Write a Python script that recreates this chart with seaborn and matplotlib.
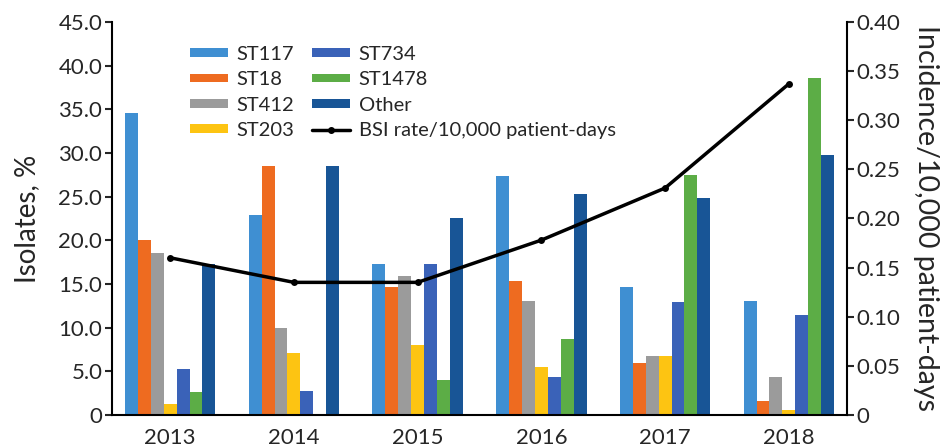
import numpy as np
import pandas as pd
import matplotlib
matplotlib.use("Agg")
import matplotlib.pyplot as plt
import seaborn as sns
from matplotlib.lines import Line2D

years = ["2013", "2014", "2015", "2016", "2017", "2018"]
st117 = [34.6, 22.9, 17.3, 27.4, 14.6, 13.1]
st18 = [20.0, 28.5, 14.7, 15.3, 6.0, 1.6]
st412 = [18.5, 10.0, 15.9, 13.1, 6.8, 4.3]
st203 = [1.3, 7.1, 8.0, 5.5, 6.8, 0.6]
st734 = [5.3, 2.8, 17.3, 4.3, 12.9, 11.5]
st1478 = [2.6, 0.0, 4.0, 8.7, 27.5, 38.6]
other = [17.3, 28.5, 22.6, 25.3, 24.9, 29.8]
bsi_rate = [0.160, 0.135, 0.135, 0.178, 0.231, 0.337]

series_names = ["ST117", "ST18", "ST412", "ST203", "ST734", "ST1478", "Other"]
series_vals = [st117, st18, st412, st203, st734, st1478, other]
colors = ["#3f8fd2", "#ee6b20", "#9b9b9b", "#fdc412", "#3a62b8", "#5cad46", "#185596"]

rows = []
for name, vals in zip(series_names, series_vals):
    for y, v in zip(years, vals):
        rows.append({"Year": y, "Type": name, "Value": v})
df = pd.DataFrame(rows)

sns.set_style("ticks")
plt.rcParams['font.family'] = ['Lato', 'DejaVu Sans']

fig = plt.figure(figsize=(9.51, 4.46), dpi=100)
ax = fig.add_axes([0.1178, 0.0695, 0.7728, 0.8812])

sns.barplot(data=df, x="Year", y="Value", hue="Type", order=years,
            hue_order=series_names, palette=colors, width=0.73,
            saturation=1, linewidth=0, edgecolor="none", ax=ax, legend=True)
handles, labels = ax.get_legend_handles_labels()
if ax.get_legend() is not None:
    ax.get_legend().remove()

ax.set_xlim(-0.47, 5.47)
ax.set_ylim(0, 45)
ax.set_yticks(np.arange(0, 46, 5))
ax.set_yticklabels(["0"] + [f"{v:.1f}" for v in np.arange(5, 46, 5)])
ax.set_xlabel("")
ax.set_ylabel("Isolates, %", fontsize=20, labelpad=13)
ax.tick_params(axis="y", labelsize=16, length=5, width=1.5, direction="out", pad=2)
ax.tick_params(axis="x", labelsize=16, length=0, pad=9)
for s in ["top", "right"]:
    ax.spines[s].set_visible(False)
for s in ["left", "bottom"]:
    ax.spines[s].set_linewidth(1.5)
    ax.spines[s].set_color("black")

ax2 = ax.twinx()
sns.lineplot(x=np.arange(len(years)), y=bsi_rate, ax=ax2, color="black",
             linewidth=2.5, marker="o", markersize=5, markeredgewidth=0)
ax2.set_ylim(0, 0.40)
ax2.set_yticks(np.arange(0, 0.401, 0.05))
ax2.set_yticklabels(["0"] + [f"{v:.2f}" for v in np.arange(0.05, 0.401, 0.05)])
ax2.set_ylabel("Incidence/10,000 patient-days", fontsize=20.5, rotation=270, labelpad=28)
ax2.tick_params(axis="y", labelsize=16, length=5, width=1.5, direction="out", pad=2)
for s in ["top", "left", "bottom"]:
    ax2.spines[s].set_visible(False)
ax2.spines["right"].set_linewidth(1.5)
ax2.spines["right"].set_color("black")
ax2.set_xlim(-0.47, 5.47)

line_handle = Line2D([0], [0], color="black", linewidth=2.5, marker="o", markersize=4)
all_handles = list(handles) + [line_handle]
all_labels = list(labels) + ["BSI rate/10,000 patient-days"]
ax2.legend(all_handles, all_labels, ncol=2, loc="upper left",
           bbox_to_anchor=(0.095, 0.96), frameon=False, fontsize=14.5,
           handlelength=1.9, handleheight=0.3, handletextpad=0.4,
           columnspacing=0.9, labelspacing=0.42, borderaxespad=0)

fig.savefig("out.png", dpi=100)
